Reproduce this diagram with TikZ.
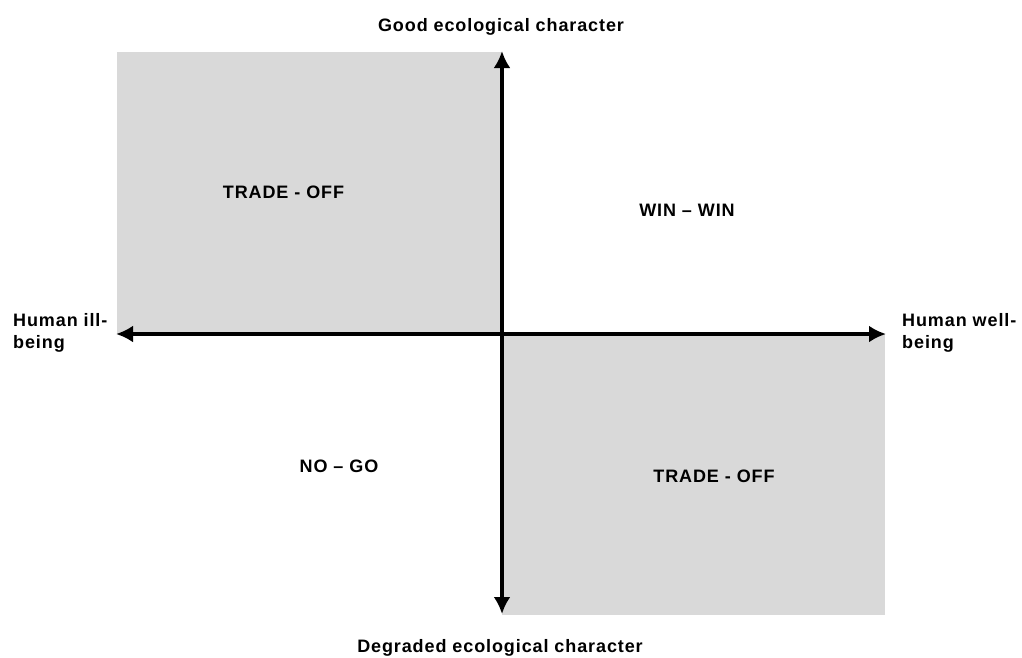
\documentclass[tikz,border=0pt]{standalone}
\usepackage{fontspec}
\setmainfont{Liberation Sans}[LetterSpace=5]
\usepackage{tikz}
\usetikzlibrary{arrows.meta}
\usetikzlibrary{positioning}
\definecolor{quadgray}{RGB}{217,217,217}
\tikzset{axis/.style={line width=4.5pt,{Latex[length=17pt,width=17pt]}-{Latex[length=17pt,width=17pt]}}}
\tikzset{quad/.style={fill=quadgray,draw=none}}
\tikzset{lbl/.style={font=\fontsize{18}{22}\selectfont\bfseries,inner sep=0pt}}

\begin{document}
\begin{tikzpicture}[x=1pt,y=-1pt]
  \useasboundingbox (0,0) rectangle (1022,657);
  % shaded quadrants
  \fill[quad] (117,52) rectangle (502,334);
  \fill[quad] (502,334) rectangle (885,615);
  % axis ends
  \coordinate (top) at (502,51);
  \coordinate (bottom) at (502,614);
  \coordinate (left) at (116,334);
  \coordinate (right) at (886,334);
  \draw[axis] (bottom) -- (top);
  \draw[axis] (left) -- (right);
  % axis labels
  \node (good) [lbl,anchor=base] at (501,31) {Good ecological character};
  \node (degraded) [lbl,anchor=base] at (500,652) {Degraded ecological character};
  \node (ill) [lbl,align=left,anchor=west] at (13,332.5) {Human ill-\\being};
  \node (well) [lbl,align=left,anchor=west] at (902,332.5) {Human well-\\being};
  % quadrant labels
  \node (tradeA) [lbl,anchor=base] at (283.5,198) {TRADE - OFF};
  \node (winwin) [lbl,anchor=base] at (687,216) {WIN -- WIN};
  \node (nogo) [lbl,anchor=base] at (339,472) {NO -- GO};
  \node (tradeB) [lbl,anchor=base] at (714,482) {TRADE - OFF};
\end{tikzpicture}
\end{document}
